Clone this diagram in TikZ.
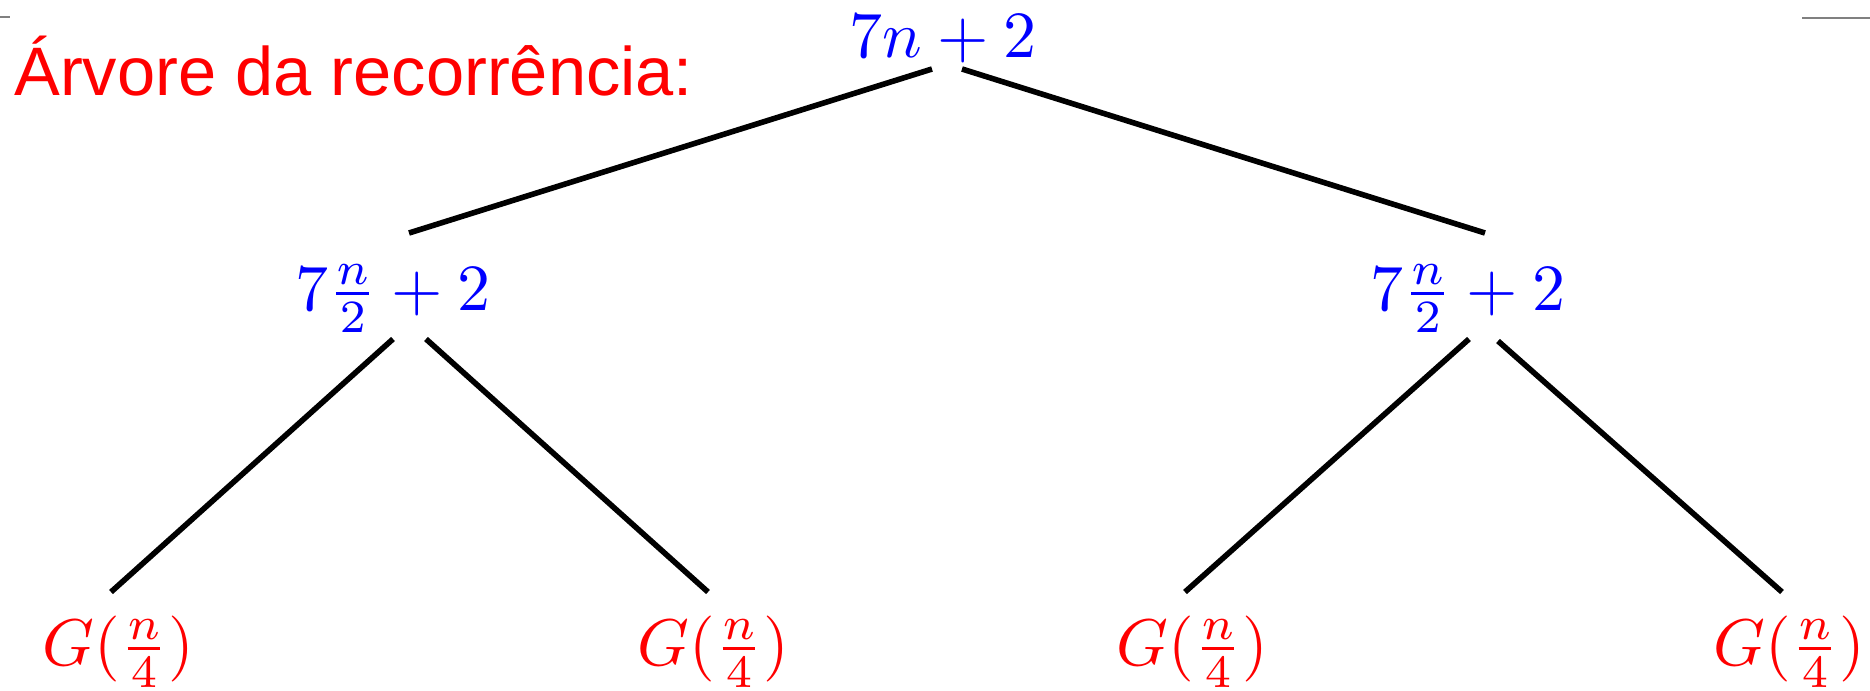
\documentclass[tikz,border=0pt]{standalone}
\usepackage{fontspec}
\setmainfont{Liberation Sans}
\begin{document}
\begin{tikzpicture}[x=0.5pt,y=-0.5pt,
  lbl/.style={font=\fontsize{10}{12}\selectfont, inner sep=0pt, anchor=base, scale=3.3, transform shape},
  inner/.style={lbl, text=blue},
  leaf/.style={lbl, text=red},
  titletext/.style={font=\fontsize{34.3}{40}\selectfont, text=red, inner sep=0pt, anchor=base west},
  branch/.style={line width=2.8pt, black},
  rule/.style={line width=1pt, gray}]
\useasboundingbox (0,0) rectangle (1870,691);
\draw[rule] (0,17) -- (10,17);
\draw[rule] (1802,18) -- (1870,18);
\node[titletext] (title) at (14,95) {Árvore da recorrência:};
\node[inner] (root) at (943,57) {$7n+2$};
\node[inner] (ml) at (393,310) {$7\frac{n}{2}+2$};
\node[inner] (mr) at (1468,310) {$7\frac{n}{2}+2$};
\node[leaf] (l1) at (118,665) {$G(\frac{n}{4})$};
\node[leaf] (l2) at (713,665) {$G(\frac{n}{4})$};
\node[leaf] (l3) at (1192,665) {$G(\frac{n}{4})$};
\node[leaf] (l4) at (1789,665) {$G(\frac{n}{4})$};
% connector ends
\coordinate (rootL) at ([shift={(-11,12)}]root.base);
\coordinate (rootR) at ([shift={(19,12)}]root.base);
\coordinate (mlT) at ([shift={(16,-77)}]ml.base);
\coordinate (mrT) at ([shift={(17,-77)}]mr.base);
\coordinate (mlL) at ([shift={(0,29)}]ml.base);
\coordinate (mlR) at ([shift={(33,29)}]ml.base);
\coordinate (mrL) at ([shift={(1,29)}]mr.base);
\coordinate (mrR) at ([shift={(30,31)}]mr.base);
\coordinate (l1T) at ([shift={(-7,-73)}]l1.base);
\coordinate (l2T) at ([shift={(-5,-73)}]l2.base);
\coordinate (l3T) at ([shift={(-7,-73)}]l3.base);
\coordinate (l4T) at ([shift={(-7,-73)}]l4.base);
\draw[branch] (rootL) -- (mlT);
\draw[branch] (rootR) -- (mrT);
\draw[branch] (mlL) -- (l1T);
\draw[branch] (mlR) -- (l2T);
\draw[branch] (mrL) -- (l3T);
\draw[branch] (mrR) -- (l4T);
\end{tikzpicture}
\end{document}
